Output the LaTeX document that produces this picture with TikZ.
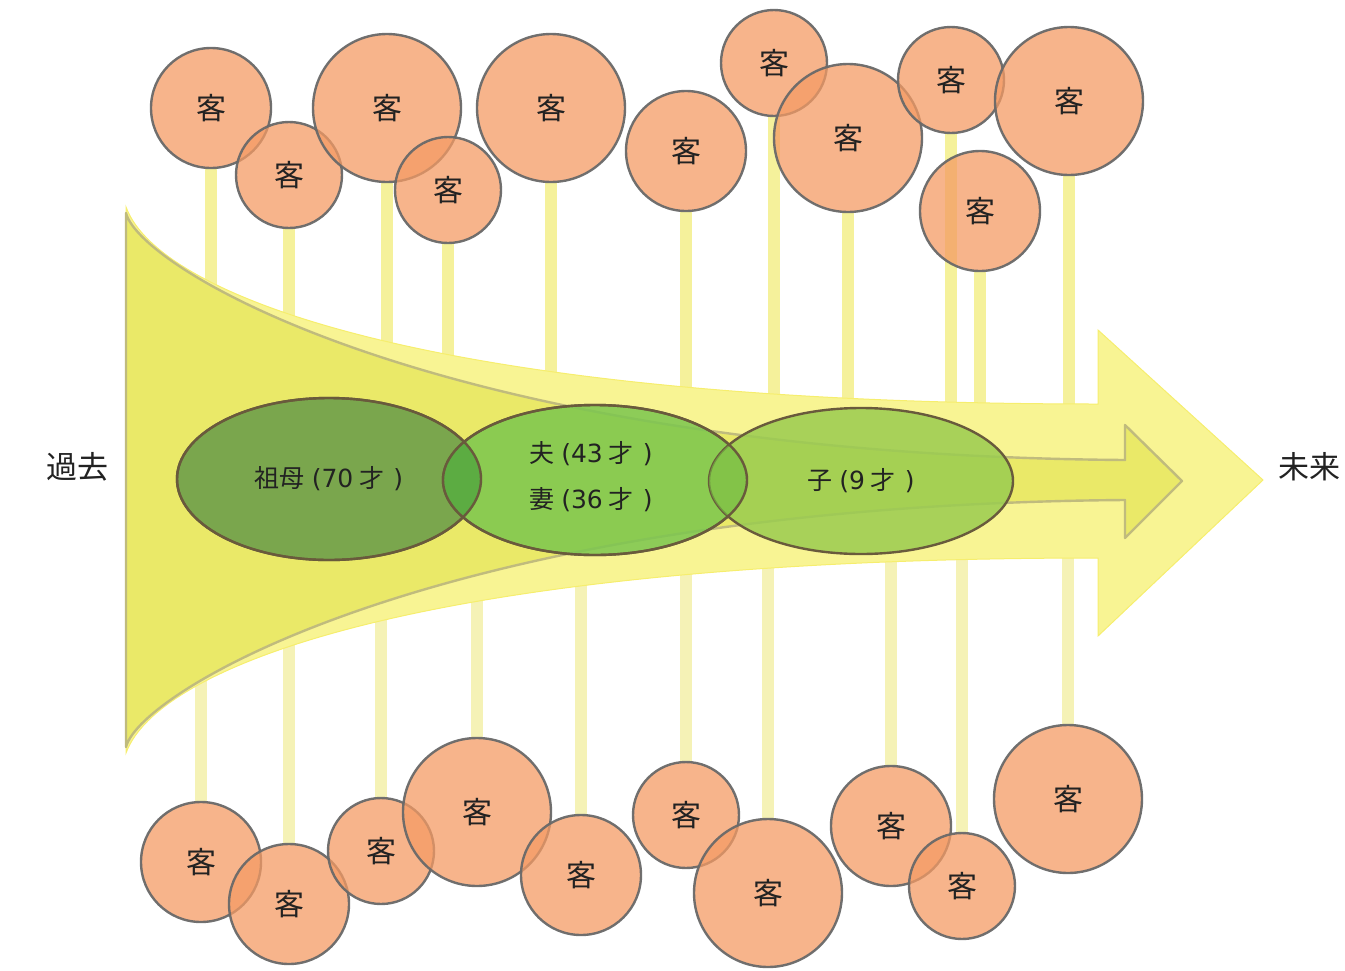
\documentclass[tikz,border=0pt]{standalone}
\usepackage{fontspec}
\setmainfont{Noto Sans CJK JP}
\newfontfamily\lf{DejaVu Sans}
\usetikzlibrary{shapes.geometric}
\pgfdeclarelayer{sticks}
\pgfsetlayers{sticks,main}
\definecolor{outerY}{RGB}{248,244,147}
\definecolor{outerE}{RGB}{246,238,110}
\definecolor{innerY}{RGB}{234,233,104}
\definecolor{innerE}{RGB}{192,187,125}
\definecolor{stickT}{RGB}{245,241,155}
\definecolor{stickB}{RGB}{245,242,182}
\definecolor{guestF}{RGB}{244,155,100}
\definecolor{guestE}{RGB}{105,105,105}
\definecolor{txt}{RGB}{34,34,34}
\definecolor{gmF}{RGB}{103,155,73}
\definecolor{cpF}{RGB}{123,198,78}
\definecolor{chF}{RGB}{154,204,80}
\definecolor{lensA}{RGB}{92,172,66}
\definecolor{lensB}{RGB}{118,190,68}
\definecolor{ellE}{RGB}{105,90,60}
\newcommand{\age}[2]{#1\hspace*{7pt}{\lf(#2}\hspace*{6pt}才\hspace*{9pt}{\lf)}}
\tikzset{
  guest/.style={circle, inner sep=0pt, minimum size=#1, fill=guestF, fill opacity=0.75,
    draw=guestE, draw opacity=0.95, line width=2.4pt, text opacity=1, text=txt,
    font=\fontsize{30}{30}\selectfont},
  stickt/.style={line width=12pt, stickT},
  stickb/.style={line width=12pt, stickB},
  ell/.style={ellipse, inner sep=0pt, minimum width=#1, fill opacity=0.85,
    draw=ellE, line width=2.4pt, text opacity=1, text=txt, align=center,
    font=\fontsize{25}{46}\selectfont},
  side/.style={text=txt, font=\fontsize{31}{31}\selectfont}
}
\begin{document}
\begin{tikzpicture}[x=1pt,y=-1pt]
\useasboundingbox (0,0) rectangle (1345,970);
% outer arrow
\fill[outerY, draw=outerE, line width=1pt]
  (126,207) .. controls (160,300) and (450,404) .. (1098,404)
  -- (1098,330) -- (1263,480) -- (1098,636) -- (1098,558)
  .. controls (450,558) and (160,660) .. (126,753) -- cycle;
% inner arrow
\fill[innerY, draw=innerE, line width=2.4pt, line join=round]
  (126,213) .. controls (140,270) and (450,455) .. (1125,460)
  -- (1125,425) -- (1182,481) -- (1125,538) -- (1125,500)
  .. controls (450,505) and (140,690) .. (126,747) -- cycle;
% labels
\node[side] (past) at (77,467) {過去};
\node[side] (future) at (1309,467) {未来};
% top guests
\node[guest=120pt] (t1) at (211,108) {客};
\node[guest=106pt] (t2) at (289,175) {客};
\node[guest=148pt] (t3) at (387,108) {客};
\node[guest=106pt] (t4) at (448,190) {客};
\node[guest=148pt] (t5) at (551,108) {客};
\node[guest=120pt] (t6) at (686,151) {客};
\node[guest=106pt] (t7) at (774,63) {客};
\node[guest=148pt] (t8) at (848,138) {客};
\node[guest=106pt] (t9) at (951,80) {客};
\node[guest=148pt] (t10) at (1069,101) {客};
\node[guest=120pt] (t11) at (980,211) {客};
% bottom guests
\node[guest=120pt] (b1) at (201,862) {客};
\node[guest=120pt] (b2) at (289,904) {客};
\node[guest=106pt] (b3) at (381,851) {客};
\node[guest=148pt] (b4) at (477,812) {客};
\node[guest=120pt] (b5) at (581,875) {客};
\node[guest=106pt] (b6) at (686,815) {客};
\node[guest=148pt] (b7) at (768,893) {客};
\node[guest=120pt] (b8) at (891,826) {客};
\node[guest=106pt] (b9) at (962,886) {客};
\node[guest=148pt] (b10) at (1068,799) {客};
% stick ends (hidden under the arrow)
\coordinate (e1) at (211,300);
\coordinate (e2) at (289,328);
\coordinate (e3) at (387,352);
\coordinate (e4) at (448,364);
\coordinate (e5) at (551,382);
\coordinate (e6) at (686,397);
\coordinate (e7) at (774,404);
\coordinate (e8) at (848,410);
\coordinate (e9) at (951,414);
\coordinate (e10) at (1069,416);
\coordinate (e11) at (980,415);
\coordinate (f1) at (201,666);
\coordinate (f2) at (289,633);
\coordinate (f3) at (381,610);
\coordinate (f4) at (477,591);
\coordinate (f5) at (581,576);
\coordinate (f6) at (686,563);
\coordinate (f7) at (768,556);
\coordinate (f8) at (891,549);
\coordinate (f9) at (962,546);
\coordinate (f10) at (1068,545);
\begin{pgfonlayer}{sticks}
\foreach \i in {1,...,11} \draw[stickt] (t\i.south) -- (e\i);
\foreach \i in {1,...,10} \draw[stickb] (f\i) -- (b\i.north);
\end{pgfonlayer}
% family ellipses
\node[ell=304pt, minimum height=162pt, fill=gmF] (gm) at (329,479) {\age{祖母}{70}};
\node[ell=304pt, minimum height=150pt, fill=cpF] (cp) at (595,480) {};
\node[ell=304pt, minimum height=146pt, fill=chF] (ch) at (861,481) {\age{子}{9}};
\begin{scope}
  \clip (329,479) ellipse [x radius=152pt, y radius=81pt];
  \fill[lensA] (595,480) ellipse [x radius=152pt, y radius=75pt];
\end{scope}
\begin{scope}
  \clip (595,480) ellipse [x radius=152pt, y radius=75pt];
  \fill[lensB, fill opacity=0.6] (861,481) ellipse [x radius=152pt, y radius=73pt];
\end{scope}
\draw[ellE, line width=2.4pt] (329,479) ellipse [x radius=152pt, y radius=81pt]
  (595,480) ellipse [x radius=152pt, y radius=75pt];
\node[text=txt, align=center, font=\fontsize{25}{46}\selectfont] (cptext) at (591,477)
  {\age{夫}{43}\\\age{妻}{36}};
\end{tikzpicture}
\end{document}
